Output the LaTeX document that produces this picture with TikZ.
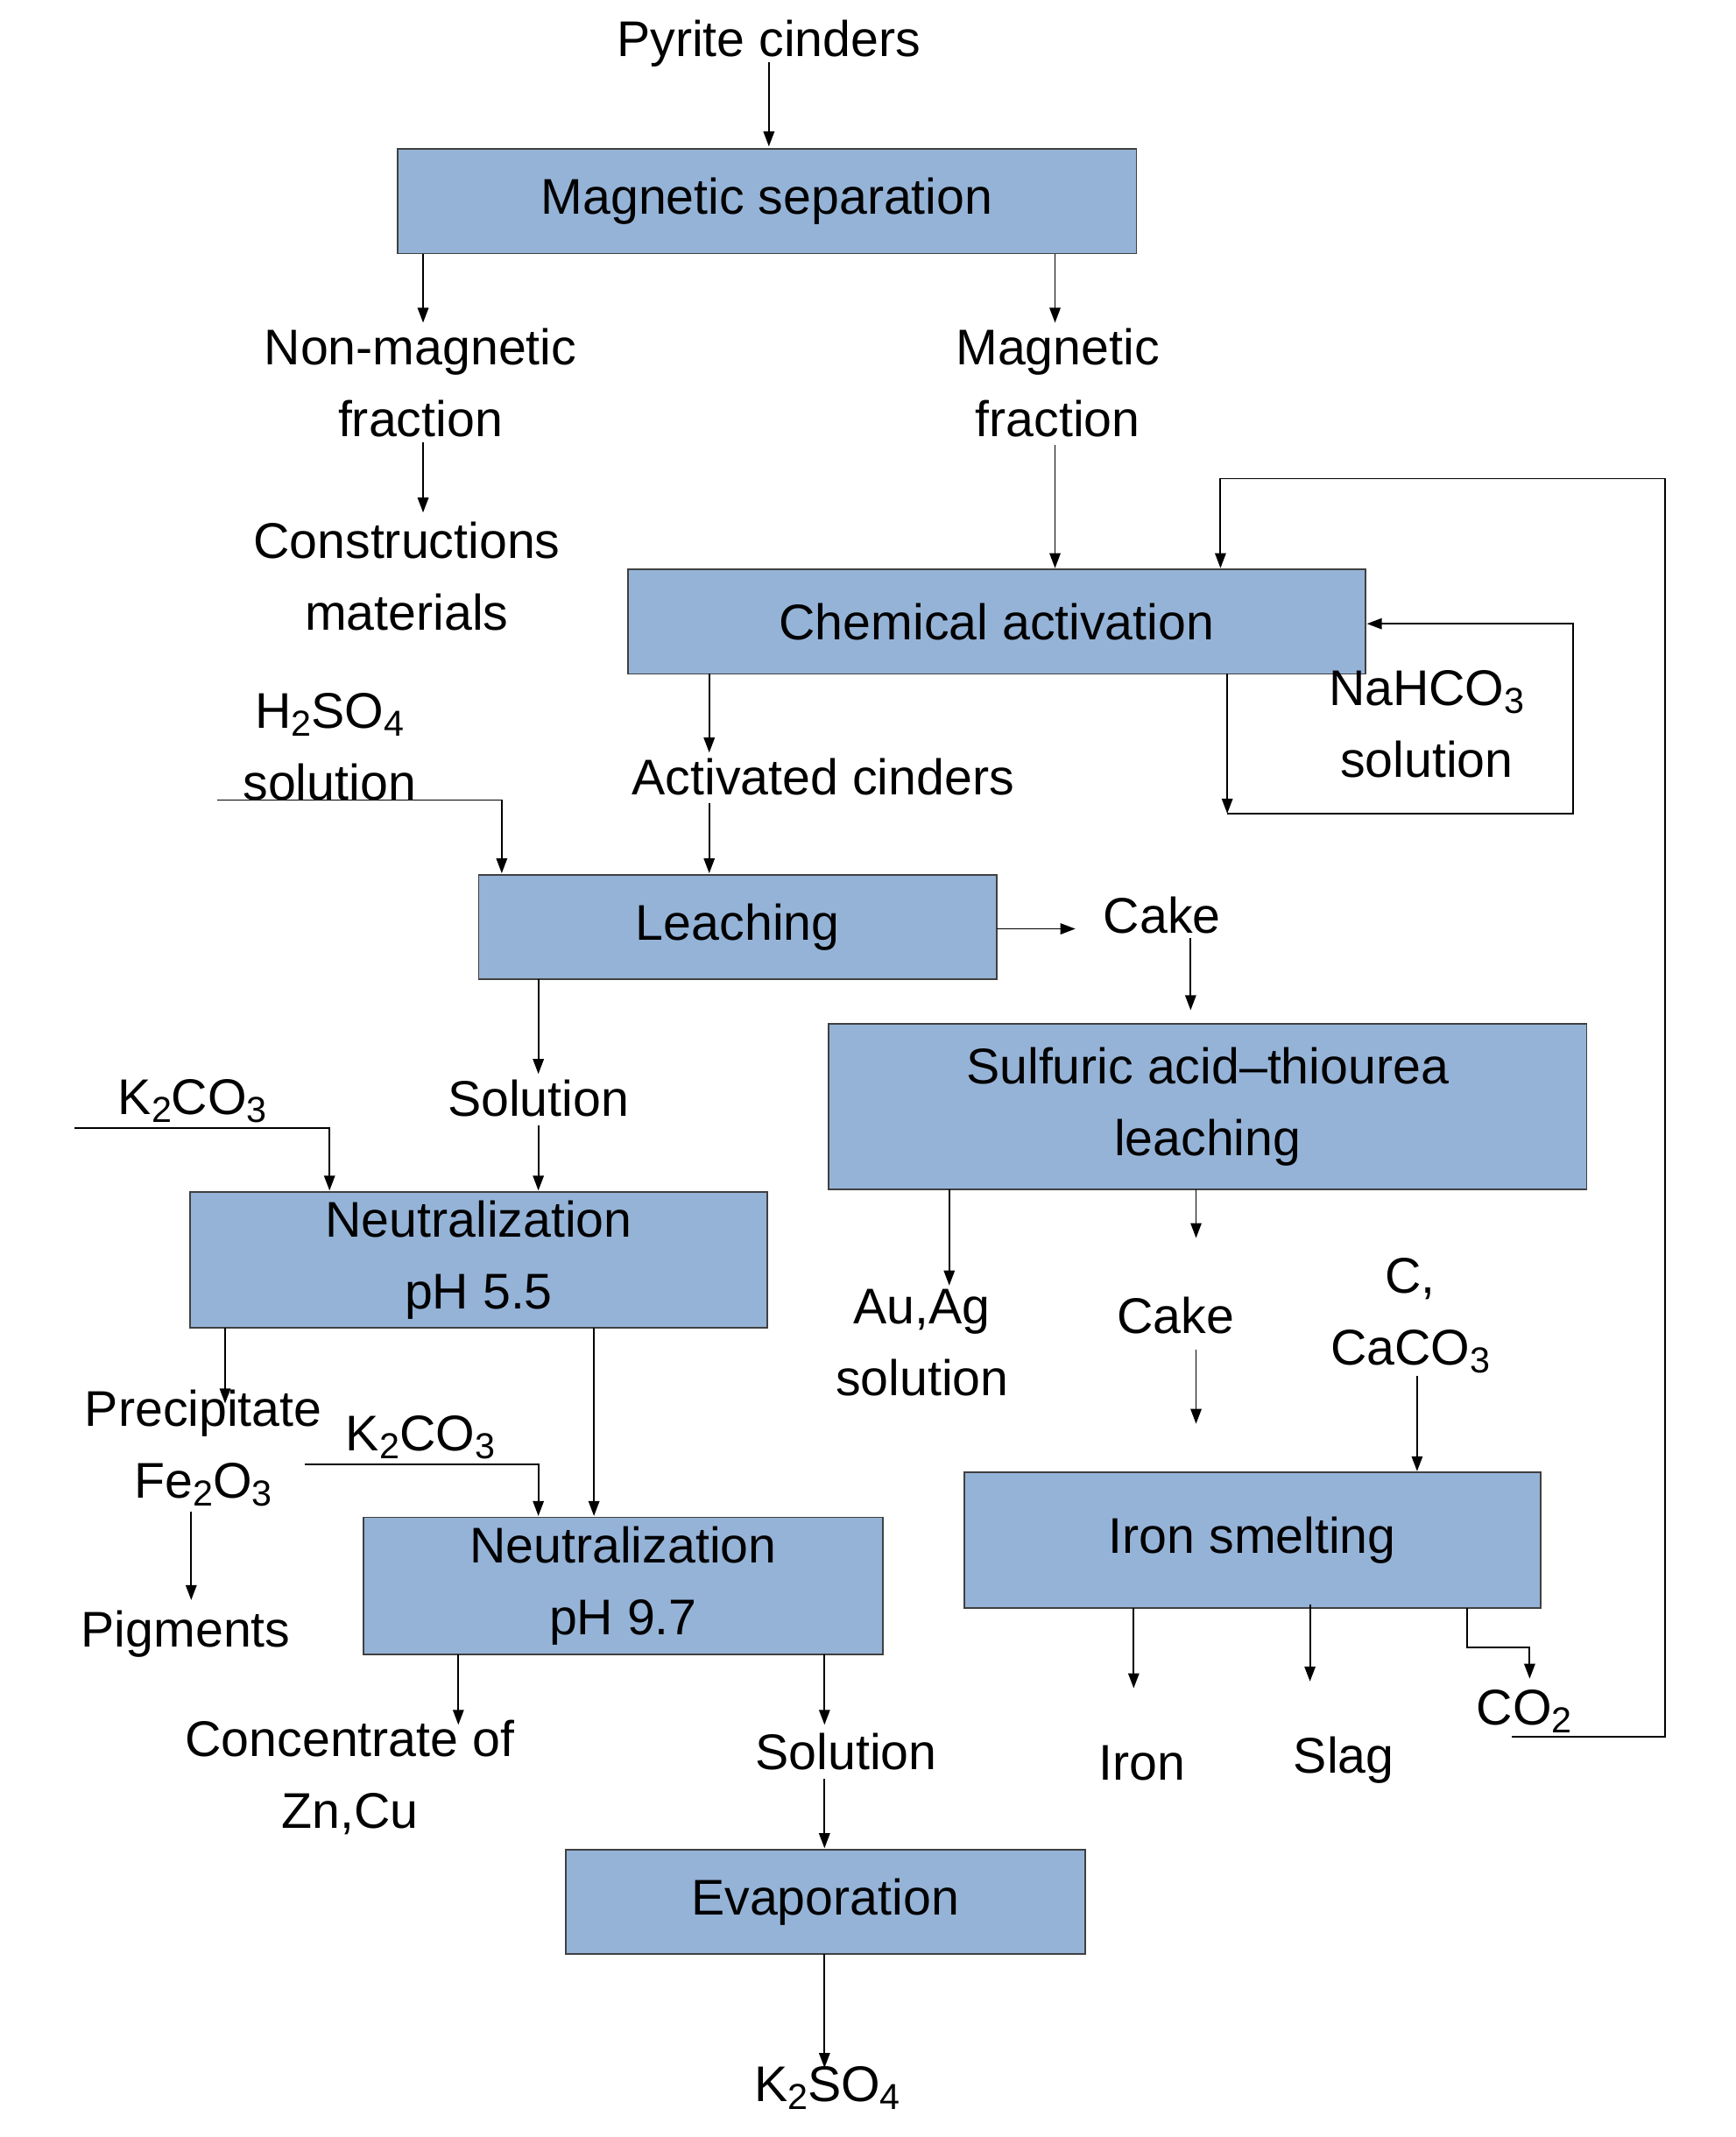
\documentclass[tikz,border=0pt]{standalone}
\usepackage{fontspec}
\setmainfont{Liberation Sans}
\usetikzlibrary{arrows.meta}
\newcommand{\sbs}[1]{\raisebox{-0.3ex}{\scalebox{0.72}{#1}}}
\begin{document}
\begin{tikzpicture}[x=1pt,y=-1pt,
  box/.style={draw=black!75,line width=1.2pt,fill=boxc,inner sep=0pt},
  lbl/.style={align=center,inner sep=0pt,font=\fontsize{37}{53}\selectfont},
  ar/.style={-{Triangle[length=11pt,width=8pt]},line width=1.2pt},
  ln/.style={line width=1.2pt}]
\definecolor{boxc}{RGB}{149,179,215}
\useasboundingbox[fill=white] (0,0) rectangle (1280,1576);
% boxes
\node[box,minimum width=545pt,minimum height=77pt] (ms) at (565.5,148.5) {};
\node[lbl] at (ms) {Magnetic separation};
\node[box,minimum width=544pt,minimum height=77pt] (ca) at (735,458.5) {};
\node[lbl] at (ca) {Chemical activation};
\node[box,minimum width=382pt,minimum height=77pt] (le) at (544,683.5) {};
\node[lbl] at (le) {Leaching};
\node[box,minimum width=559pt,minimum height=122pt] (sa) at (890.5,816) {};
\node[lbl] at (sa) {Sulfuric acid--thiourea\\leaching};
\node[box,minimum width=426pt,minimum height=100pt] (n1) at (353,929) {};
\node[lbl] at (n1) {Neutralization\\pH 5.5};
\node[box,minimum width=383pt,minimum height=101pt] (n2) at (459.5,1169.5) {};
\node[lbl] at (n2) {Neutralization\\pH 9.7};
\node[box,minimum width=383pt,minimum height=77pt] (ev) at (608.5,1402.5) {};
\node[lbl] at (ev) {Evaporation};
\node[box,minimum width=425pt,minimum height=100pt] (is) at (923.5,1136) {};
\node[lbl] at (is) {Iron smelting};
% labels
\node[lbl] (py) at (567,32) {Pyrite cinders};
\node[lbl] (nm) at (310,282) {Non-magnetic\\fraction};
\node[lbl] (mf) at (780,282) {Magnetic\\fraction};
\node[lbl] (cm) at (300,425) {Constructions\\materials};
\node[lbl] (ac) at (607,573) {Activated cinders};
\node[lbl] (h2) at (243,551) {H\sbs{2}SO\sbs{4}\\solution};
\node[lbl] (na) at (1052,534) {NaHCO\sbs{3}\\solution};
\node[lbl] (ck1) at (857,675) {Cake};
\node[lbl] (so1) at (397,810) {Solution};
\node[lbl] (k1) at (142,812) {K\sbs{2}CO\sbs{3}};
\node[lbl] (pr) at (150,1068) {Precipitate\\Fe\sbs{2}O\sbs{3}};
\node[lbl] (pg) at (137,1205) {Pigments};
\node[lbl] (k2) at (310,1060) {K\sbs{2}CO\sbs{3}};
\node[lbl] (cz) at (258,1311) {Concentrate of\\Zn,Cu};
\node[lbl] (so2) at (624,1292) {Solution};
\node[lbl] (k3) at (610,1540) {K\sbs{2}SO\sbs{4}};
\node[lbl] (au) at (680,990) {Au,Ag\\solution};
\node[lbl] (ck2) at (867,970) {Cake};
\node[lbl] (cc) at (1040,970) {C,\\CaCO\sbs{3}};
\node[lbl] (ir) at (842,1300) {Iron};
\node[lbl] (sl) at (991,1298) {Slag};
\node[lbl] (co) at (1124,1262) {CO\sbs{2}};
% coordinates
\coordinate (p1) at (567,46); \coordinate (p2) at (567,108);
% connectors
\draw[ar] (p1) -- (p2);
\draw[ar] (312,187) -- (312,238);
\draw[ar] (778,187) -- (778,238);
\draw[ar] (312,326) -- (312,378);
\draw[ar] (778,328) -- (778,419);
\draw[ar] (1115,1281) -- (1228,1281) -- (1228,353) -- (900,353) -- (900,419);
\draw[ar] (905,497) -- (905,600);
\draw[ar] (905,600) -- (1160,600) -- (1160,460) -- (1008,460);
\draw[ar] (523,497) -- (523,555);
\draw[ar] (523,592) -- (523,644);
\draw[ar] (160,590) -- (370,590) -- (370,644);
\draw[ar] (735,685) -- (793,685);
\draw[ar] (878,692) -- (878,745);
\draw[ar] (397,722) -- (397,792);
\draw[ar] (397,830) -- (397,878);
\draw[ar] (55,832) -- (243,832) -- (243,878);
\draw[ar] (166,979) -- (166,1035);
\draw[ar] (141,1115) -- (141,1180);
\draw[ar] (225,1080) -- (397,1080) -- (397,1118);
\draw[ar] (438,979) -- (438,1118);
\draw[ar] (338,1220) -- (338,1272);
\draw[ar] (608,1220) -- (608,1272);
\draw[ar] (608,1312) -- (608,1363);
\draw[ar] (608,1441) -- (608,1525);
\draw[ar] (700,877) -- (700,948);
\draw[ar] (882,877) -- (882,913);
\draw[ar] (882,995) -- (882,1050);
\draw[ar] (1045,1015) -- (1045,1085);
\draw[ar] (836,1186) -- (836,1245);
\draw[ar] (966,1183) -- (966,1240);
\draw[ar] (1082,1186) -- (1082,1215) -- (1128,1215) -- (1128,1238);
\end{tikzpicture}
\end{document}
